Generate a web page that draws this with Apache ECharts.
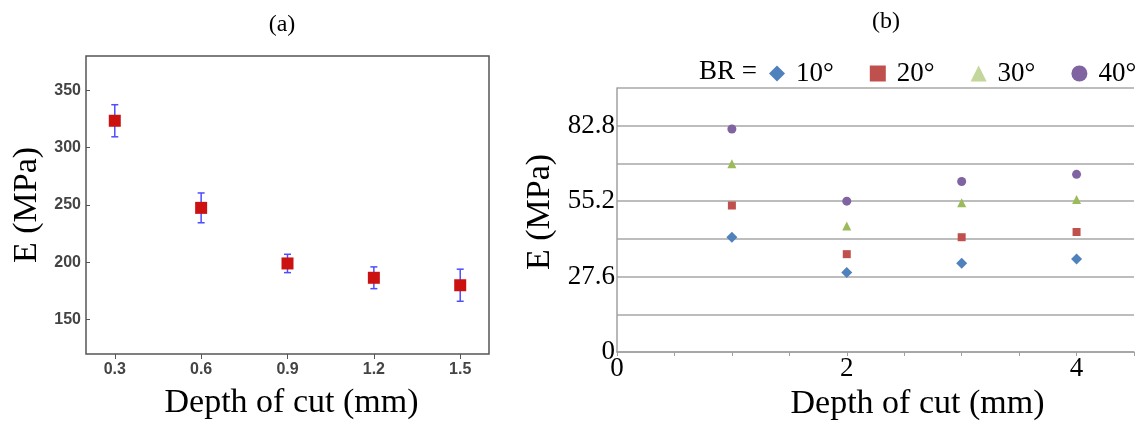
<!DOCTYPE html>
<html>
<head>
<meta charset="utf-8">
<script src="https://cdn.jsdelivr.net/npm/echarts@6/dist/echarts.min.js"></script>
<style>
  html, body { margin: 0; padding: 0; background: #fff; }
  #main { width: 1145px; height: 426px; }
</style>
</head>
<body>
<div id="main"></div>
<script>
// panel (a): mean modulus with error bars
var depthA = [0.3, 0.6, 0.9, 1.2, 1.5];
var modulusA = [323.5, 247.5, 199, 186.5, 180];
var errA = [14, 13, 8, 9.5, 14];
var ticksAX = [0.3, 0.6, 0.9, 1.2, 1.5];
var ticksAY = [150, 200, 250, 300, 350];

// panel (b): modulus per BR angle
var depthB = [1, 2, 3, 4];
var br10 = [42.0, 29.1, 32.5, 34.0];
var br20 = [53.6, 35.8, 42.0, 43.9];
var br30 = [68.9, 46.1, 54.6, 55.8];
var br40 = [81.6, 55.2, 62.4, 65.0];
var brNames = ['10°', '20°', '30°', '40°'];

var serif = 'Liberation Serif';
var sans = 'Liberation Sans';

function pairs(xs, ys) {
    return xs.map(function (x, i) { return [x, ys[i]]; });
}

var chart = echarts.init(document.getElementById('main'));
chart.setOption({
    animation: false,
    backgroundColor: '#fff',
    title: [
        {text: '(a)', left: 277, top: 8, textAlign: 'center',
            textStyle: {fontFamily: serif, fontSize: 24, fontWeight: 'normal', color: '#000'}},
        {text: '(b)', left: 881, top: 5, textAlign: 'center',
            textStyle: {fontFamily: serif, fontSize: 24, fontWeight: 'normal', color: '#000'}}
    ],
    graphic: [{
        type: 'text', left: 699, top: 58,
        style: {text: 'BR =', fontFamily: serif, fontSize: 27, fill: '#000'}
    }],
    legend: {
        left: 769, top: 60, width: 380, padding: 0,
        itemWidth: 16, itemHeight: 16, itemGap: 36,
        textStyle: {fontFamily: serif, fontSize: 27, color: '#000', padding: [0, 0, 0, 6]},
        data: [
            {name: '10°', icon: 'diamond', itemStyle: {color: '#4f81bd'}},
            {name: '20°', icon: 'rect', itemStyle: {color: '#c0504d'}},
            {name: '30°', icon: 'triangle', itemStyle: {color: '#c3d69b'}},
            {name: '40°', icon: 'circle', itemStyle: {color: '#8064a2'}}
        ]
    },
    grid: [
        {left: 86, top: 56, width: 403, height: 298, show: true, borderColor: '#555', borderWidth: 1.5},
        {left: 617, top: 88, right: 11, bottom: 73}
    ],
    xAxis: [
        {
            gridIndex: 0, type: 'value', min: 0.2, max: 1.6,
            name: 'Depth of cut (mm)', nameLocation: 'middle', nameGap: 32,
            nameTextStyle: {fontFamily: serif, fontSize: 34, color: '#000', padding: [0, 0, 0, 8]},
            axisLine: {show: false},
            axisTick: {show: true, customValues: ticksAX, length: 5, lineStyle: {color: '#555'}},
            axisLabel: {customValues: ticksAX, margin: 8, fontFamily: sans, fontSize: 16, fontWeight: 'bold', color: '#444',
                formatter: function (v) { return v.toFixed(1); }},
            splitLine: {show: false}
        },
        {
            gridIndex: 1, type: 'value', min: 0, max: 4.5, interval: 0.5,
            name: 'Depth of cut (mm)', nameLocation: 'middle', nameGap: 35,
            nameTextStyle: {fontFamily: serif, fontSize: 34, color: '#000', padding: [0, 0, 0, 84]},
            axisLine: {show: true, lineStyle: {color: '#a0a0a0', width: 1.5}},
            axisTick: {show: true, length: 4, lineStyle: {color: '#a0a0a0'}},
            axisLabel: {margin: 3, fontFamily: serif, fontSize: 27, color: '#000',
                formatter: function (v) { return (Math.abs(v % 2) < 1e-6) ? String(v) : ''; }},
            splitLine: {show: false}
        }
    ],
    yAxis: [
        {
            gridIndex: 0, type: 'value', min: 120, max: 380,
            name: 'E (MPa)', nameLocation: 'middle', nameGap: 42,
            nameTextStyle: {fontFamily: serif, fontSize: 34, color: '#000'},
            axisLine: {show: false},
            axisTick: {show: true, inside: true, customValues: ticksAY, length: 4, lineStyle: {color: '#555'}},
            axisLabel: {customValues: ticksAY, margin: 5, fontFamily: sans, fontSize: 16, fontWeight: 'bold', color: '#444'},
            splitLine: {show: false}
        },
        {
            gridIndex: 1, type: 'value', min: 0, max: 96.6, interval: 13.8,
            name: 'E (MPa)', nameLocation: 'middle', nameGap: 60,
            nameTextStyle: {fontFamily: serif, fontSize: 34, color: '#000', padding: [0, 0, 0, 16]},
            axisLine: {show: true, lineStyle: {color: '#a0a0a0', width: 1.5}},
            axisTick: {show: false},
            axisLabel: {margin: 2, fontFamily: serif, fontSize: 27, color: '#000',
                formatter: function (v) {
                    var k = Math.round(v / 13.8);
                    return (k % 2 === 0 && k < 7) ? String(+v.toFixed(1)) : '';
                }},
            splitLine: {show: true, lineStyle: {color: '#bdbdbd', width: 2}}
        }
    ],
    series: [
        {
            name: 'errA', type: 'custom', xAxisIndex: 0, yAxisIndex: 0, z: 2,
            data: depthA.map(function (d, i) { return [d, modulusA[i] - errA[i], modulusA[i] + errA[i]]; }),
            renderItem: function (params, api) {
                var top = api.coord([api.value(0), api.value(2)]);
                var bot = api.coord([api.value(0), api.value(1)]);
                var w = 3.5;
                var st = {stroke: '#4d4dff', lineWidth: 1.5};
                return {
                    type: 'group',
                    children: [
                        {type: 'line', shape: {x1: top[0], y1: top[1], x2: bot[0], y2: bot[1]}, style: st},
                        {type: 'line', shape: {x1: top[0] - w, y1: top[1], x2: top[0] + w, y2: top[1]}, style: st},
                        {type: 'line', shape: {x1: bot[0] - w, y1: bot[1], x2: bot[0] + w, y2: bot[1]}, style: st}
                    ]
                };
            }
        },
        {
            name: 'meanA', type: 'scatter', xAxisIndex: 0, yAxisIndex: 0, z: 3,
            symbol: 'rect', symbolSize: 12,
            itemStyle: {color: '#cc1111', opacity: 1},
            data: pairs(depthA, modulusA)
        },
        {name: brNames[0], type: 'scatter', xAxisIndex: 1, yAxisIndex: 1, symbol: 'diamond', symbolSize: 11,
            itemStyle: {color: '#4f81bd', opacity: 1}, data: pairs(depthB, br10)},
        {name: brNames[1], type: 'scatter', xAxisIndex: 1, yAxisIndex: 1, symbol: 'rect', symbolSize: 8,
            itemStyle: {color: '#c0504d', opacity: 1}, data: pairs(depthB, br20)},
        {name: brNames[2], type: 'scatter', xAxisIndex: 1, yAxisIndex: 1, symbol: 'triangle', symbolSize: 9,
            itemStyle: {color: '#9bbb59', opacity: 1}, data: pairs(depthB, br30)},
        {name: brNames[3], type: 'scatter', xAxisIndex: 1, yAxisIndex: 1, symbol: 'circle', symbolSize: 9,
            itemStyle: {color: '#8064a2', opacity: 1}, data: pairs(depthB, br40)}
    ]
});
</script>
</body>
</html>
